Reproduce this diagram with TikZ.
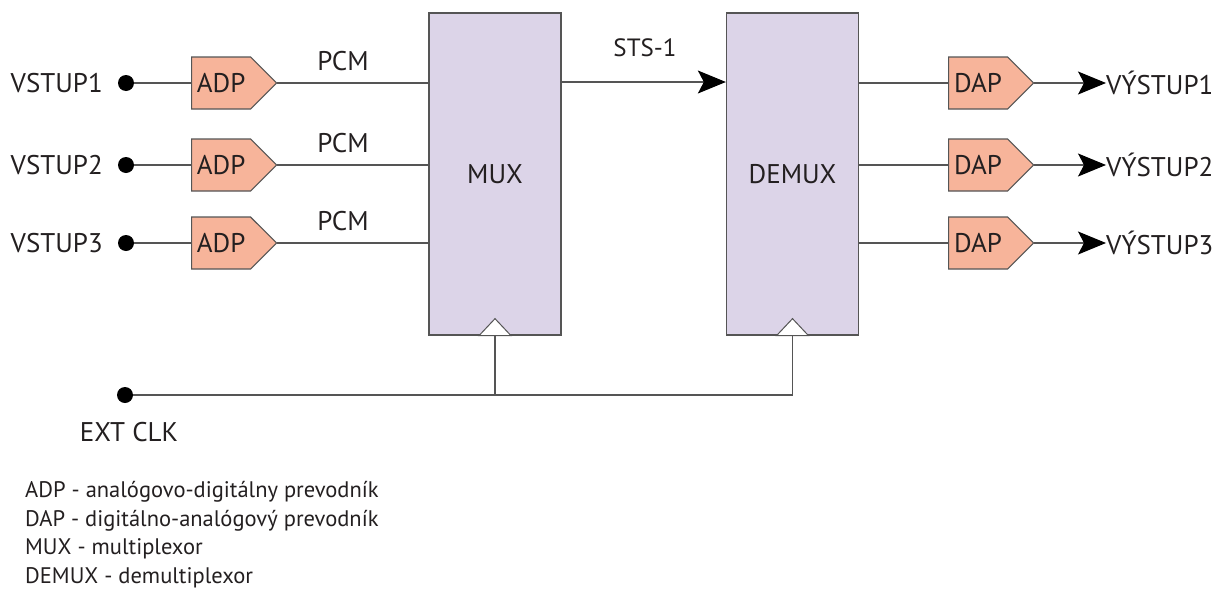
\documentclass[tikz,border=0pt]{standalone}
\usepackage{fontspec}
\setmainfont{PT Sans}
\usetikzlibrary{shapes.symbols,arrows.meta,calc}
\definecolor{conv}{HTML}{F7B49A}
\definecolor{blk}{HTML}{DCD4E8}
\definecolor{edge}{HTML}{555555}
\definecolor{ink}{HTML}{231F20}
\tikzset{
  every node/.style={text=ink},
  big/.style={font=\fontsize{27}{30}\selectfont},
  mid/.style={font=\fontsize{27}{30}\selectfont},
  sts/.style={font=\fontsize{25}{28}\selectfont},
  small/.style={font=\fontsize{22.5}{26}\selectfont},
  conv/.style={signal, signal to=east, signal pointer angle=90, fill=conv, draw=edge, line width=1.2pt,
     minimum width=85pt, minimum height=52pt, inner sep=0pt, mid, anchor=west},
  block/.style={rectangle, fill=blk, draw=edge, line width=1.3pt, minimum width=132pt, minimum height=322pt, mid},
  wire/.style={draw=edge, line width=1.1pt},
  dot/.style={circle, fill=black, minimum size=16pt, inner sep=0pt},
  clktri/.style={fill=white, draw=edge, line width=1pt},
  arr/.style={wire, -{Stealth[length=28pt,width=23pt,inset=6pt,color=black]}},
  lbl/.style={inner sep=0pt},
}
\begin{document}
\begin{tikzpicture}[x=1pt,y=-1pt]
\useasboundingbox (0,0) rectangle (1223,608);
% blocks
\node[block] (mux) at (495,174) {MUX};
\node[block] (demux) at (792.5,174) {DEMUX};
% inputs
\foreach \i/\y in {1/83,2/165,3/243}{
  \node[big,lbl,anchor=east] (vin\i) at (103,\y) {VSTUP\i};
  \node[dot] (d\i) at (126,\y) {};
  \node[conv] (adp\i) at (191,\y) {ADP};
  \node[mid,lbl] (pcm\i) at (343,\y-22) {PCM};
  \draw[wire] (d\i) -- (adp\i.west);
  \draw[wire] (adp\i.east) -- (adp\i.east -| mux.west);
}
% outputs
\foreach \i/\y in {1/83,2/165,3/243}{
  \node[conv] (dap\i) at (948,\y) {DAP};
  \node[big,lbl,anchor=west] (out\i) at (1106,\y) {VÝSTUP\i};
  \draw[wire] (dap\i.west -| demux.east) -- (dap\i.west);
  \draw[arr] (dap\i.east) -- (out\i.west);
}
% STS-1
\coordinate (sts) at (561,82);
\draw[arr] (sts) -- (sts -| demux.west);
\node[sts,lbl] (stslbl) at (645,48) {STS-1};
% clock
\node[dot] (clk) at (125,395) {};
\node[big,lbl] (clklbl) at (129,432) {EXT CLK};
\coordinate (mc) at (mux.south);
\coordinate (dc) at (demux.south);
\draw[wire] (clk) -- (clk -| dc) -- (dc);
\draw[wire] (mc) -- (mc |- clk);
\draw[clktri] ($(mc)+(-16,0)$) -- ($(mc)+(0,-17)$) -- ($(mc)+(16,0)$) -- cycle;
\draw[clktri] ($(dc)+(-16,0)$) -- ($(dc)+(0,-17)$) -- ($(dc)+(16,0)$) -- cycle;
% legend
\node[small,lbl,anchor=west] (l1) at (25,492) {ADP - analógovo-digitálny prevodník};
\node[small,lbl,anchor=west] (l2) at (25,521) {DAP - digitálno-analógový prevodník};
\node[small,lbl,anchor=west] (l3) at (25,549) {MUX - multiplexor};
\node[small,lbl,anchor=west] (l4) at (25,578) {DEMUX - demultiplexor};
\end{tikzpicture}
\end{document}
